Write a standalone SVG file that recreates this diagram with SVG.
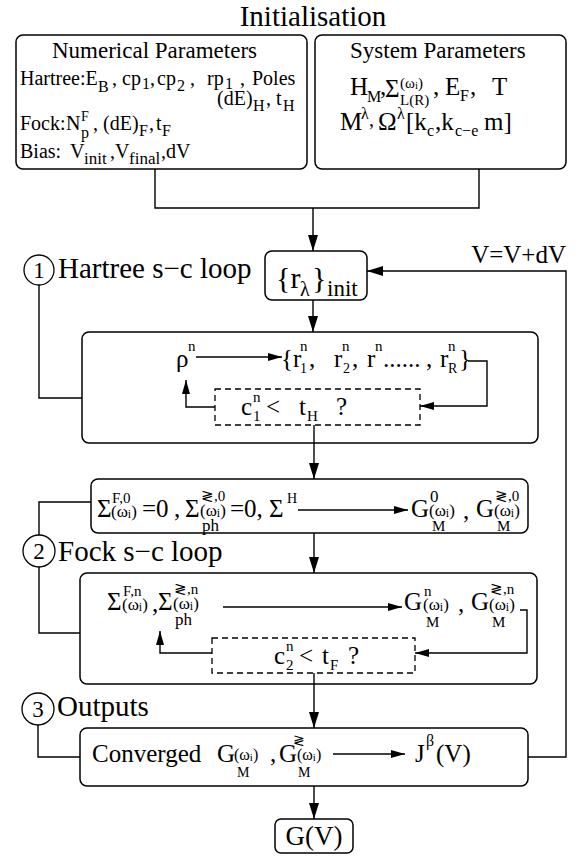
<svg xmlns="http://www.w3.org/2000/svg" width="581" height="859" viewBox="0 0 581 859" font-family="'Liberation Serif','DejaVu Serif',serif">
<style>
text{font-family:"Liberation Serif","DejaVu Serif",serif;fill:#000}
.box{fill:#fff;stroke:#000;stroke-width:1.5}
.dash{fill:none;stroke:#000;stroke-width:1.3;stroke-dasharray:6 4}
.ln{fill:none;stroke:#000;stroke-width:1.4}
.circ{fill:#fff;stroke:#000;stroke-width:1.3}
.f30{font-size:30px}.f29{font-size:29px}.f28{font-size:28px}.f27{font-size:27px}.f25{font-size:25px}.f23{font-size:23px}.f20{font-size:20px}
.s17{font-size:17px}.s16{font-size:16px}.s15{font-size:15px}.s14{font-size:14px}.s12{font-size:12px}.s11{font-size:11px}
</style>
<defs>
<marker id="ah" viewBox="0 0 16 10" refX="16" refY="5" markerWidth="16" markerHeight="10" markerUnits="userSpaceOnUse" orient="auto"><path d="M0,0 L16,5 L0,10 z" fill="#000"/></marker>
<marker id="as" viewBox="0 0 14 8" refX="14" refY="4" markerWidth="14" markerHeight="8" markerUnits="userSpaceOnUse" orient="auto"><path d="M0,0 L14,4 L0,8 z" fill="#000"/></marker>
</defs>

<text x="313" y="26" class="f29" text-anchor="middle">Initialisation</text>

<g id="numerical">
<rect class="box" x="16" y="35" width="291" height="134" rx="7"/>
<text x="52" y="58" class="f23">Numerical Parameters</text>
<text class="f20"><tspan x="20" y="85">Hartree:E</tspan><tspan x="98" y="92" class="s16">B</tspan><tspan x="112" y="85">,</tspan><tspan x="122" y="85">cp</tspan><tspan x="142" y="89" class="s16">1</tspan><tspan x="150" y="85">,</tspan><tspan x="157" y="85">cp</tspan><tspan x="177" y="91" class="s16">2</tspan><tspan x="190" y="85">,</tspan><tspan x="207" y="85">rp</tspan><tspan x="225" y="89" class="s16">1</tspan><tspan x="240" y="85">,</tspan><tspan x="252" y="85">Poles</tspan></text>
<text class="f20"><tspan x="217" y="105">(dE)</tspan><tspan x="253" y="111" class="s16">H</tspan><tspan x="266" y="105">,</tspan><tspan x="276" y="105">t</tspan><tspan x="283" y="111" class="s16">H</tspan></text>
<text class="f20"><tspan x="20" y="130">Fock:</tspan><tspan x="66" y="130">N</tspan><tspan x="81" y="121" class="s14">F</tspan><tspan x="81" y="138" class="s16">p</tspan><tspan x="93" y="130">,</tspan><tspan x="103" y="130">(dE)</tspan><tspan x="139" y="136" class="s16">F</tspan><tspan x="149" y="130">,</tspan><tspan x="156" y="130">t</tspan><tspan x="162" y="136" class="s16">F</tspan></text>
<text class="f20"><tspan x="20" y="158">Bias:</tspan><tspan x="70" y="158">V</tspan><tspan x="84" y="164" class="s17">init</tspan><tspan x="110" y="158">,</tspan><tspan x="115" y="158">V</tspan><tspan x="129" y="164" class="s17">final</tspan><tspan x="161" y="158">,dV</tspan></text>
</g>

<g id="system">
<rect class="box" x="315" y="35" width="251" height="134" rx="7"/>
<text x="350" y="58" class="f23">System Parameters</text>
<text class="f25"><tspan x="350" y="95">H</tspan><tspan x="367" y="102" class="s16">M</tspan><tspan x="380" y="95">,</tspan><tspan x="385" y="97">Σ</tspan><tspan x="400" y="88" class="s15">(ω</tspan><tspan dy="1" class="s11">i</tspan><tspan dy="-1" class="s15">)</tspan><tspan x="400" y="105" class="s15">L(R)</tspan><tspan x="433" y="95">,</tspan><tspan x="445" y="95">E</tspan><tspan x="460" y="101" class="s16">F</tspan><tspan x="470" y="95">,</tspan><tspan x="492" y="95">T</tspan></text>
<text class="f25"><tspan x="340" y="130">M</tspan><tspan x="361" y="119" class="s16">λ</tspan><tspan x="369" y="126" class="f20">,</tspan><tspan x="378" y="130">Ω</tspan><tspan x="397" y="119" class="s16">λ</tspan><tspan x="406" y="130">[k</tspan><tspan x="427" y="136" class="s16">c</tspan><tspan x="435" y="130">,k</tspan><tspan x="455" y="136" class="s16">c−e</tspan><tspan x="484" y="130">m]</tspan></text>
</g>

<g id="rinit">
<rect class="box" x="265" y="251" width="102" height="49" rx="7"/>
<text class="f30"><tspan x="276" y="288">{r</tspan><tspan x="300" y="296" class="f20">λ</tspan><tspan x="312" y="288">}</tspan><tspan x="327" y="296" class="f23">init</tspan></text>
</g>

<g id="vupdate">
<text x="566" y="263" class="f25" text-anchor="end">V=V+dV</text>
</g>

<g id="label1">
<circle class="circ" cx="39" cy="270" r="15"/>
<text x="39" y="278" class="f23" text-anchor="middle">1</text>
<text x="58" y="278" class="f29">Hartree s−c loop</text>
</g>

<g id="hartree">
<rect class="box" x="82" y="332" width="456" height="111" rx="7"/>
<text class="f25"><tspan x="176" y="367">ρ</tspan><tspan x="188" y="351" class="s15">n</tspan></text>
<text class="f25"><tspan x="281" y="367">{r</tspan><tspan x="300" y="351" class="s15">n</tspan><tspan x="300" y="373" class="s14">1</tspan><tspan x="309" y="367">,</tspan><tspan x="334" y="367">r</tspan><tspan x="342" y="351" class="s15">n</tspan><tspan x="343" y="373" class="s14">2</tspan><tspan x="352" y="367">,</tspan><tspan x="367" y="367">r</tspan><tspan x="375" y="351" class="s15">n</tspan><tspan x="383" y="367">......</tspan><tspan x="426" y="367">,</tspan><tspan x="440" y="367">r</tspan><tspan x="448" y="351" class="s15">n</tspan><tspan x="448" y="373" class="s14">R</tspan><tspan x="459" y="367">}</tspan></text>
</g>

<g id="checkH">
<rect class="dash" x="215" y="389" width="205" height="36"/>
<text class="f25"><tspan x="241" y="415">c</tspan><tspan x="253" y="402" class="s15">n</tspan><tspan x="253" y="421" class="s15">1</tspan><tspan x="266" y="415">&lt;</tspan><tspan x="299" y="415">t</tspan><tspan x="307" y="421" class="s15">H</tspan><tspan x="336" y="415">?</tspan></text>
</g>

<g id="init-sigma">
<rect class="box" x="91" y="479" width="437" height="54" rx="7"/>
<text class="f25"><tspan x="97" y="517">Σ</tspan><tspan x="112" y="503" class="s15">F,0</tspan><tspan x="111" y="517" class="s17">(ω</tspan><tspan dy="1" class="s12">i</tspan><tspan dy="-1" class="s17">)</tspan><tspan x="142" y="517">=0</tspan><tspan x="174" y="517">,</tspan><tspan x="185" y="517">Σ</tspan><tspan x="201" y="501" class="s15">≷,0</tspan><tspan x="200" y="516" class="s17">(ω</tspan><tspan dy="1" class="s12">i</tspan><tspan dy="-1" class="s17">)</tspan><tspan x="202" y="531" class="s17">ph</tspan><tspan x="230" y="517">=0, Σ</tspan><tspan x="287" y="503" class="s14">H</tspan></text>
<text class="f25"><tspan x="411" y="517">G</tspan><tspan x="430" y="502" class="s17">0</tspan><tspan x="429" y="516" class="s17">(ω</tspan><tspan dy="1" class="s12">i</tspan><tspan dy="-1" class="s17">)</tspan><tspan x="432" y="531" class="s15">M</tspan><tspan x="463" y="519">,</tspan><tspan x="476" y="517">G</tspan><tspan x="495" y="501" class="s15">≷,0</tspan><tspan x="494" y="516" class="s17">(ω</tspan><tspan dy="1" class="s12">i</tspan><tspan dy="-1" class="s17">)</tspan><tspan x="497" y="531" class="s15">M</tspan></text>
</g>

<g id="label2">
<circle class="circ" cx="39" cy="551" r="16"/>
<text x="39" y="559" class="f23" text-anchor="middle">2</text>
<text x="58" y="561" class="f29">Fock s−c loop</text>
</g>

<g id="fock">
<rect class="box" x="80" y="573" width="457" height="111" rx="7"/>
<text class="f25"><tspan x="107" y="610">Σ</tspan><tspan x="123" y="596" class="s15">F,n</tspan><tspan x="122" y="610" class="s17">(ω</tspan><tspan dy="1" class="s12">i</tspan><tspan dy="-1" class="s17">)</tspan><tspan x="152" y="612">,</tspan><tspan x="158" y="610">Σ</tspan><tspan x="174" y="594" class="s15">≷,n</tspan><tspan x="173" y="609" class="s17">(ω</tspan><tspan dy="1" class="s12">i</tspan><tspan dy="-1" class="s17">)</tspan><tspan x="175" y="625" class="s17">ph</tspan></text>
<text class="f25"><tspan x="404" y="610">G</tspan><tspan x="424" y="596" class="s15">n</tspan><tspan x="423" y="610" class="s17">(ω</tspan><tspan dy="1" class="s12">i</tspan><tspan dy="-1" class="s17">)</tspan><tspan x="426" y="627" class="s15">M</tspan><tspan x="458" y="612">,</tspan><tspan x="471" y="610">G</tspan><tspan x="490" y="594" class="s15">≷,n</tspan><tspan x="489" y="610" class="s17">(ω</tspan><tspan dy="1" class="s12">i</tspan><tspan dy="-1" class="s17">)</tspan><tspan x="492" y="627" class="s15">M</tspan></text>
</g>

<g id="checkF">
<rect class="dash" x="212" y="638" width="203" height="35"/>
<text class="f25"><tspan x="274" y="664">c</tspan><tspan x="286" y="651" class="s15">n</tspan><tspan x="286" y="670" class="s15">2</tspan><tspan x="299" y="664">&lt;</tspan><tspan x="322" y="664">t</tspan><tspan x="330" y="670" class="s15">F</tspan><tspan x="348" y="664">?</tspan></text>
</g>

<g id="label3">
<circle class="circ" cx="38" cy="709" r="16"/>
<text x="38" y="717" class="f23" text-anchor="middle">3</text>
<text x="57" y="716" class="f29">Outputs</text>
</g>

<g id="outputs">
<rect class="box" x="80" y="728" width="448" height="58" rx="7"/>
<text x="92" y="762" class="f25">Converged</text>
<text class="f25"><tspan x="217" y="762">G</tspan><tspan x="234" y="760" class="s16">(ω</tspan><tspan dy="1" class="s11">i</tspan><tspan dy="-1" class="s16">)</tspan><tspan x="237" y="777" class="s14">M</tspan><tspan x="270" y="762">,</tspan><tspan x="279" y="762">G</tspan><tspan x="293" y="745" class="s14">≷</tspan><tspan x="297" y="760" class="s16">(ω</tspan><tspan dy="1" class="s11">i</tspan><tspan dy="-1" class="s16">)</tspan><tspan x="298" y="777" class="s14">M</tspan></text>
<text class="f25"><tspan x="415" y="762">J</tspan><tspan x="426" y="746" class="s16">β</tspan><tspan x="436" y="762">(V)</tspan></text>
</g>

<g id="gv">
<rect class="box" x="275" y="819" width="78" height="34" rx="6"/>
<text x="314" y="845" class="f27" text-anchor="middle">G(V)</text>
</g>

<g id="connectors">
<path class="ln" d="M155,169 V208 H479 V169"/>
<path class="ln" d="M313,208 V251" marker-end="url(#ah)"/>
<path class="ln" d="M313,300 V332" marker-end="url(#ah)"/>
<path class="ln" d="M528,757 H566 V271 H367" marker-end="url(#ah)"/>
<path class="ln" d="M39,285 V398 H82"/>
<path class="ln" d="M314,425 V443"/>
<path class="ln" d="M314,443 V479" marker-end="url(#ah)"/>
<path class="ln" d="M91,502 H39 V535"/>
<path class="ln" d="M39,567 V633 H80"/>
<path class="ln" d="M314,533 V573" marker-end="url(#ah)"/>
<path class="ln" d="M314,673 V684"/>
<path class="ln" d="M314,684 V728" marker-end="url(#ah)"/>
<path class="ln" d="M38,725 V757 H80"/>
<path class="ln" d="M314,786 V819" marker-end="url(#ah)"/>
<path class="ln" d="M196,357 H282" marker-end="url(#as)"/>
<path class="ln" d="M468,361 H487 V406 H420" marker-end="url(#as)"/>
<path class="ln" d="M215,407 H186 V380" marker-end="url(#as)"/>
<path class="ln" d="M298,510 H408" marker-end="url(#as)"/>
<path class="ln" d="M223,607 H402" marker-end="url(#as)"/>
<path class="ln" d="M520,610 H527 V653 H415" marker-end="url(#as)"/>
<path class="ln" d="M212,653 H160 V631" marker-end="url(#as)"/>
<path class="ln" d="M333,754 H405" marker-end="url(#as)"/>
</g>
</svg>
